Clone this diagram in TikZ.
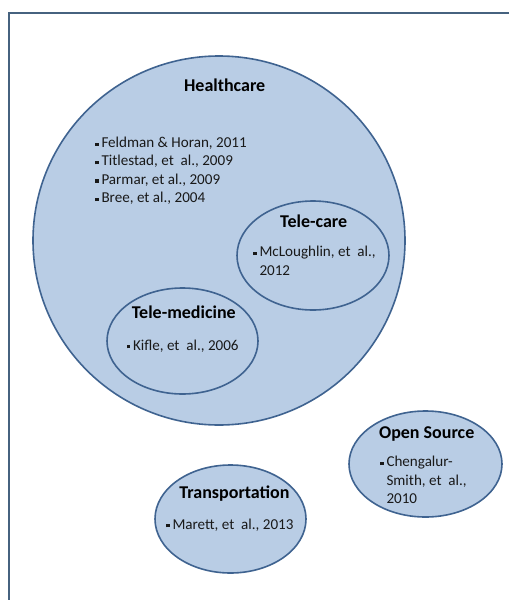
\documentclass[tikz,border=0pt]{standalone}
\usepackage{fontspec}
\setmainfont{Carlito}
\usetikzlibrary{shapes.geometric}

\definecolor{areafill}{HTML}{B9CDE5}
\definecolor{arealine}{HTML}{3F6390}
\definecolor{frameline}{HTML}{46627F}
\newcommand{\sq}{\raisebox{0.22ex}{\rule{3.3pt}{3.3pt}}}

\begin{document}
\begin{tikzpicture}[x=1pt,y=-1pt]
%define
\tikzstyle{area} = [ellipse, draw=arealine, fill=areafill, line width=1.6pt, inner sep=0pt]
\tikzstyle{head} = [font=\fontsize{18}{21}\selectfont\bfseries, text=black, inner sep=0pt, anchor=base]
\tikzstyle{refs} = [font=\fontsize{15.1}{18.4}\selectfont, text=black!90, inner sep=0pt, anchor=base west, align=left]

\useasboundingbox (0,0) rectangle (509,600);
%frame
\draw[frameline, line width=1.8pt] (509,13) -- (9,13) -- (9,600);

%areas
\node[area, minimum width=372pt, minimum height=369pt](health) at (219,240.5){};
\node[area, minimum width=152pt, minimum height=109pt](telecare) at (313,255.5){};
\node[area, minimum width=151pt, minimum height=106pt](telemed) at (182.5,341){};
\node[area, minimum width=153pt, minimum height=106pt](opensrc) at (425.5,464){};
\node[area, minimum width=151pt, minimum height=108pt](transport) at (230.5,519){};

%titles
\node[head](healthlbl) at (224.7,91){Healthcare};
\node[head](telecarelbl) at (313.7,227.3){Tele-care};
\node[head](telemedlbl) at (183.8,318.3){Tele-medicine};
\node[head](opensrclbl) at (426.7,438.3){Open Source};
\node[head](transportlbl) at (234.5,498.3){Transportation};

%references
\node[refs](healthrefs) at (95,147.5){\begin{tabular}[t]{@{}l@{\hspace{3pt}}l@{}}
\sq & Feldman \& Horan, 2011\\
\sq & Titlestad, et~ al., 2009\\
\sq & Parmar, et al., 2009\\
\sq & Bree, et al., 2004
\end{tabular}};
\node[refs](telecarerefs) at (253,256.7){\begin{tabular}[t]{@{}l@{\hspace{3pt}}l@{}}
\sq & McLoughlin, et~ al.,\\
 & 2012
\end{tabular}};
\node[refs](telemedrefs) at (126.5,350){\begin{tabular}[t]{@{}l@{\hspace{3pt}}l@{}}
\sq & Kifle, et~ al., 2006
\end{tabular}};
\node[refs](opensrcrefs) at (380,466.7){\begin{tabular}[t]{@{}l@{\hspace{3pt}}l@{}}
\sq & Chengalur-\\
 & Smith, et~ al.,\\
 & 2010
\end{tabular}};
\node[refs](transportrefs) at (166,529){\begin{tabular}[t]{@{}l@{\hspace{3pt}}l@{}}
\sq & Marett, et~ al., 2013
\end{tabular}};

\end{tikzpicture}
\end{document}
